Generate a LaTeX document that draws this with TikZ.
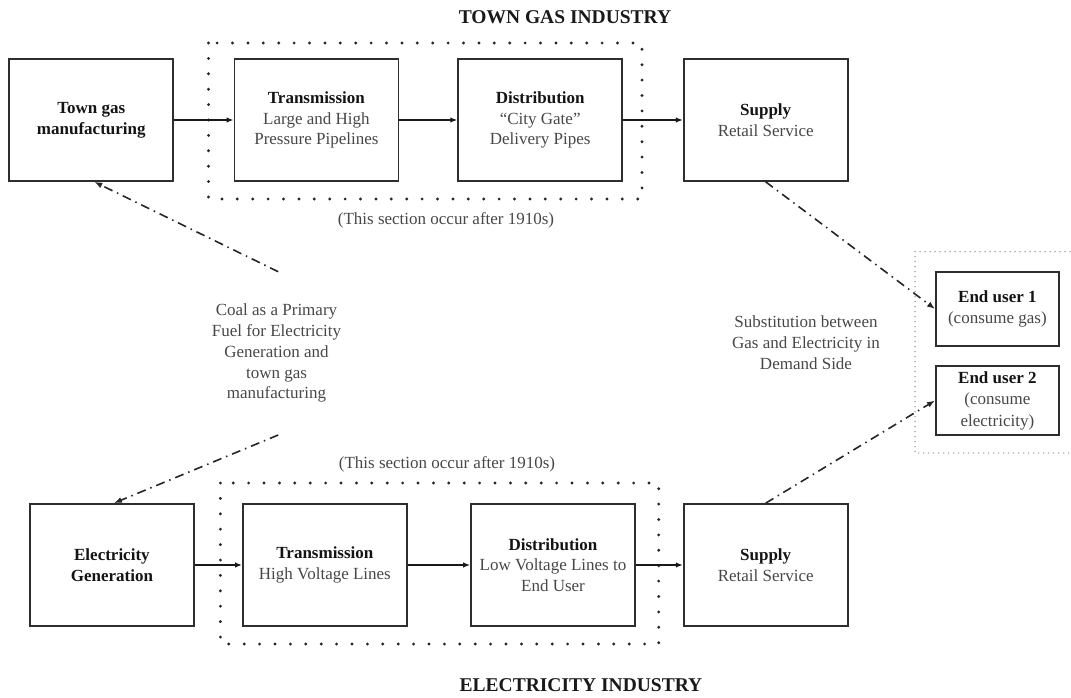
\documentclass[tikz,border=0pt]{standalone}
\usepackage{fontspec}
\setmainfont{Liberation Serif}
\usetikzlibrary{arrows.meta}
\newcommand{\bt}[1]{\textcolor{black!92}{\textbf{#1}}}
\begin{document}
\begin{tikzpicture}[x=1pt,y=-1pt,
  box/.style={draw=black!82, line width=1.7pt, minimum width=164pt, minimum height=122pt,
    inner sep=0pt, align=center, font=\fontsize{17}{20.8}\selectfont, text=black!72},
  eubox/.style={draw=black!82, line width=1.7pt, minimum width=123pt,
    inner sep=0pt, align=center, font=\fontsize{17}{21.5}\selectfont, text=black!72},
  flow/.style={-{Latex[length=7pt,width=5.5pt]}, line width=1.4pt, draw=black!90},
  dd/.style={-{Latex[length=8pt,width=6pt]}, line width=1.6pt, draw=black!85,
    dash pattern=on 9pt off 5pt on 1.5pt off 5pt},
  bigdots/.style={line width=3.2pt, line cap=round, dash pattern=on 0pt off 15.4pt, draw=black!85},
  smalldots/.style={line width=1.4pt, line cap=round, dash pattern=on 0pt off 5pt, draw=black!55},
  lbl/.style={font=\fontsize{17}{20.8}\selectfont, text=black!72, align=center, inner sep=0pt},
  ttl/.style={font=\fontsize{19.5}{22}\selectfont\bfseries, text=black!90, inner sep=0pt}]
\useasboundingbox (0,0) rectangle (1071,698);

% titles
\node[ttl] (t1) at (565,17) {TOWN GAS INDUSTRY};
\node[ttl] (t2) at (581,685) {ELECTRICITY INDUSTRY};

% dotted section boxes
\draw[bigdots] (208.5,43) rectangle (642,199);
\draw[bigdots] (220.4,483) rectangle (658.7,644);
\node[lbl] (s1) at (446,220) {(This section occur after 1910s)};
\node[lbl] (s2) at (447,464) {(This section occur after 1910s)};

% top row
\node[box] (tg) at (91.3,120) {\bt{Town gas}\\\bt{manufacturing}};
\node[box] (tt) at (316.4,120) {\bt{Transmission}\\Large and High\\Pressure Pipelines};
\node[box] (td) at (540.2,120) {\bt{Distribution}\\``City Gate''\\Delivery Pipes};
\node[box] (ts) at (765.7,120) {\bt{Supply}\\Retail Service};

% bottom row
\node[box] (eg) at (111.9,565) {\bt{Electricity}\\\bt{Generation}};
\node[box] (et) at (324.9,565) {\bt{Transmission}\\High Voltage Lines};
\node[box] (ed) at (553,565) {\bt{Distribution}\\Low Voltage Lines to\\End User};
\node[box] (es) at (765.7,565) {\bt{Supply}\\Retail Service};

\draw[flow] (tg) -- (tt);
\draw[flow] (tt) -- (td);
\draw[flow] (td) -- (ts);
\draw[flow] (eg) -- (et);
\draw[flow] (et) -- (ed);
\draw[flow] (ed) -- (es);

% end users
\draw[smalldots] (1075,251.7) -- (915,251.7) -- (915,453) -- (1075,453);
\node[eubox, minimum height=74pt] (eu1) at (997.4,309) {\bt{End user 1}\\(consume gas)};
\node[eubox, minimum height=69pt] (eu2) at (997.4,400.5) {\bt{End user 2}\\(consume\\electricity)};

% middle labels
\node[lbl] (coal) at (276.5,353.3) {Coal as a Primary\\Fuel for Electricity\\Generation and\\town gas\\manufacturing};
\node[lbl] (subst) at (806,342.7) {Substitution between\\Gas and Electricity in\\Demand Side};
\coordinate (c1) at (278.2,271.7);
\coordinate (c2) at (278.2,435);

\draw[dd] (c1) -- ([xshift=3pt]tg.south);
\draw[dd] (c2) -- ([xshift=2pt]eg.north);
\draw[dd] (ts.south) -- (eu1.west);
\draw[dd] (es.north) -- (eu2.west);
\end{tikzpicture}
\end{document}
